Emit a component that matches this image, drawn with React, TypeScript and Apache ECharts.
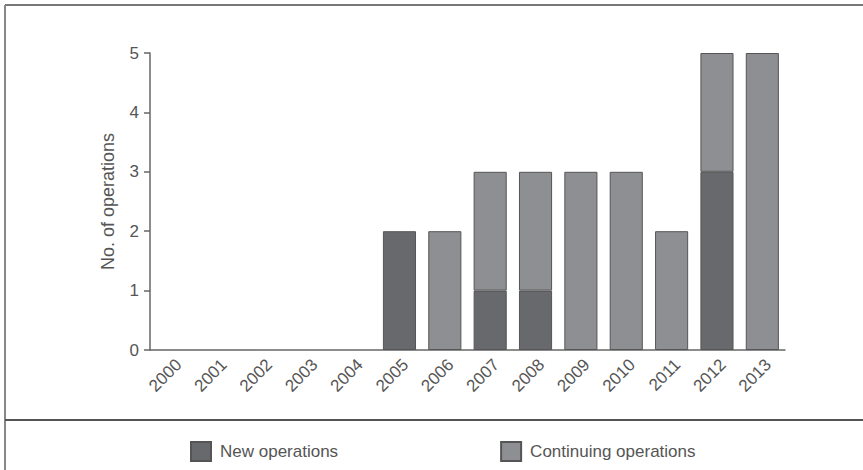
import React, { useEffect, useRef } from "react";
import * as echarts from "echarts";

const years = ["2000", "2001", "2002", "2003", "2004", "2005", "2006", "2007", "2008", "2009", "2010", "2011", "2012", "2013"];
const newOps = [0, 0, 0, 0, 0, 2, 0, 1, 1, 0, 0, 0, 3, 0];
const continuingOps = [0, 0, 0, 0, 0, 0, 2, 2, 2, 3, 3, 2, 2, 5];
const seriesNames = ["New operations", "Continuing operations"];
const yTicks = { min: 0, max: 5, interval: 1 };

const FONT = "'Liberation Sans', Arial, sans-serif";

export default function App() {
  const ref = useRef<HTMLDivElement>(null);
  useEffect(() => {
    if (!ref.current) return;
    const chart = echarts.init(ref.current, undefined, { renderer: "svg" });
    const toData = (arr: number[]) => arr.map((v) => (v === 0 ? null : v));
    chart.setOption({
      animation: false,
      backgroundColor: "#ffffff",
      grid: { left: 150, right: 78, top: 53, bottom: 120, containLabel: false },
      legend: {
        left: 185,
        top: 436,
        itemWidth: 20,
        itemHeight: 19,
        itemGap: 162,
        icon: "rect",
        textStyle: { fontFamily: FONT, fontSize: 17, color: "#555", padding: [0, 0, 0, 4] },
        data: seriesNames,
      },
      xAxis: {
        type: "category",
        data: years,
        axisLine: { lineStyle: { color: "#666", width: 1.5 } },
        axisTick: { show: false },
        axisLabel: {
          rotate: 45,
          interval: 0,
          margin: 6,
          align: "right",
          verticalAlign: "top",
          fontFamily: FONT,
          fontSize: 17,
          color: "#555",
        },
      },
      yAxis: {
        type: "value",
        min: yTicks.min,
        max: yTicks.max,
        interval: yTicks.interval,
        name: "No. of operations",
        nameLocation: "middle",
        nameGap: 33,
        nameTextStyle: { fontFamily: FONT, fontSize: 18, color: "#555" },
        axisLine: { show: true, lineStyle: { color: "#666", width: 1.5 } },
        axisTick: { show: true, length: 6, lineStyle: { color: "#666", width: 1.5 } },
        axisLabel: { fontFamily: FONT, fontSize: 17, color: "#555", margin: 11 },
        splitLine: { show: false },
      },
      series: [
        {
          name: seriesNames[0],
          type: "bar",
          stack: "ops",
          data: toData(newOps),
          barWidth: "73%",
          itemStyle: { color: "#68696d", borderColor: "#555", borderWidth: 1 },
        },
        {
          name: seriesNames[1],
          type: "bar",
          stack: "ops",
          data: toData(continuingOps),
          barWidth: "73%",
          itemStyle: { color: "#8e8f93", borderColor: "#555", borderWidth: 1 },
        },
      ],
      graphic: [
        { type: "line", shape: { x1: 5, y1: 5, x2: 863, y2: 5 }, style: { stroke: "#777", lineWidth: 2 } },
        { type: "line", shape: { x1: 5, y1: 5, x2: 5, y2: 470 }, style: { stroke: "#888", lineWidth: 2 } },
        { type: "line", shape: { x1: 5, y1: 420, x2: 863, y2: 420 }, style: { stroke: "#555", lineWidth: 2 } },
      ],
    });
    return () => chart.dispose();
  }, []);
  return <div ref={ref} style={{ position: "fixed", left: 0, top: 0, width: 863, height: 470 }} />;
}
